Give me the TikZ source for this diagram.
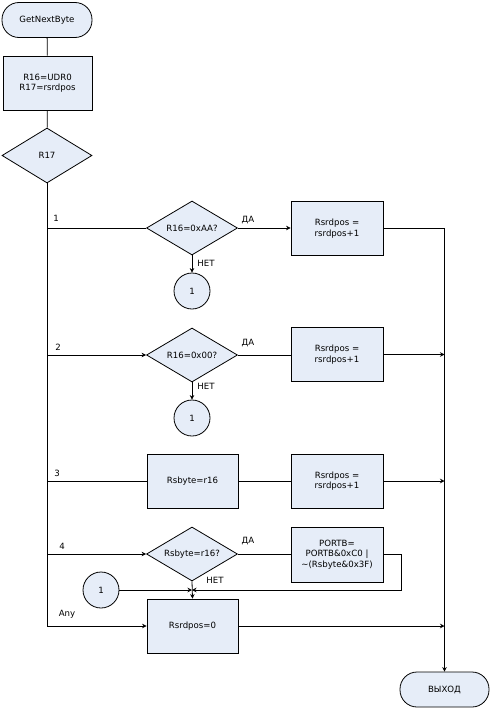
\documentclass[tikz,border=0pt]{standalone}
\usepackage{fontspec}
\setmainfont{DejaVu Sans}
\usetikzlibrary{shapes.geometric,arrows.meta}
\definecolor{boxfill}{RGB}{230,237,248}

\begin{document}
\begin{tikzpicture}[x=1pt,y=-1pt,line width=0.8pt,
  font=\fontsize{8.6}{10.5}\selectfont,
  blk/.style={draw,fill=boxfill,minimum width=92pt,minimum height=54pt,align=center,inner sep=1pt},
  term/.style={draw,fill=boxfill,rounded corners=17pt,minimum width=90pt,minimum height=35pt},
  cond/.style={draw,fill=boxfill,diamond,aspect=1.7,minimum width=91pt,minimum height=54pt,inner sep=0pt},
  conn/.style={draw,fill=boxfill,circle,minimum size=36pt,inner sep=0pt},
  arr/.style={-{Stealth[length=4.5pt,width=4.5pt]}}]
\useasboundingbox (0,0) rectangle (492,709);
\node[term] (start) at (47,20) {GetNextByte};
\node[blk,minimum width=89pt] (init) at (47.5,83) {R16=UDR0\\R17=rsrdpos};
\node[cond,minimum width=90pt,minimum height=55pt] (r17) at (47,155.5) {R17};
\node[cond] (d1) at (192,228) {R16=0xAA?};
\node[blk] (p1) at (337,228.5) {Rsrdpos =\\rsrdpos+1};
\node[conn] (c1) at (192,291) {1};
\node[cond] (d2) at (192,355) {R16=0x00?};
\node[blk] (p2) at (337,354.5) {Rsrdpos =\\rsrdpos+1};
\node[conn] (c2) at (192,418) {1};
\node[blk,minimum width=91pt] (b3) at (192.5,481) {Rsbyte=r16};
\node[blk] (p3) at (337,481) {Rsrdpos =\\rsrdpos+1};
\node[cond] (d4) at (192,554) {Rsbyte=r16?};
\node[blk,minimum height=55pt] (p4) at (337,554.5) {PORTB=\\PORTB\&0xC0 |\\\textasciitilde(Rsbyte\&0x3F)};
\node[conn] (c3) at (101,590) {1};
\node[blk,minimum width=91pt] (rz) at (192.5,626) {Rsrdpos=0};
\node[term,minimum width=89pt] (exit) at (444.5,689.5) {ВЫХОД};
\coordinate (m) at (d4.south |- c3.east);

\draw (start) -- (init);
\draw (init) -- (r17);
\draw[arr] (r17.south) |- (rz.west);
\draw (r17.south |- d1.west) -- (d1.west);
\draw[arr] (r17.south |- d2.west) -- (d2.west);
\draw (r17.south |- b3.west) -- (b3.west);
\draw[arr] (r17.south |- d4.west) -- (d4.west);
\draw[arr] (d1.east) -- (d1.east -| p1.west);
\draw[arr] (d1.south) -- (c1.north);
\draw (d2.east) -- (d2.east -| p2.west);
\draw[arr] (d2.south) -- (c2.north);
\draw (b3.east) -- (b3.east -| p3.west);
\draw (d4.east) -- (d4.east -| p4.west);
\draw[arr] (d4.south) -- (rz.north);
\draw[arr] (c3.east) -- (m);
\draw[arr] (p4.east) -- ++(18,0) |- (m);
\draw[arr] (p1.east) -| (exit.north);
\draw[arr] (p2.east) -- (exit.north |- p2.east);
\draw[arr] (p3.east) -- (exit.north |- p3.east);
\draw[arr] (rz.east) -- (exit.north |- rz.east);

\node (l1) at (56,218) {1};
\node (l2) at (58,347) {2};
\node (l3) at (57,473) {3};
\node (l4) at (62,546) {4};
\node (lany) at (67,614) {Any};
\node (y1) at (248,220) {ДА};
\node (y2) at (248,343) {ДА};
\node (y4) at (248,541) {ДА};
\node (n1) at (206,263) {НЕТ};
\node (n2) at (206,386) {НЕТ};
\node (n4) at (215,580) {НЕТ};
\end{tikzpicture}
\end{document}
